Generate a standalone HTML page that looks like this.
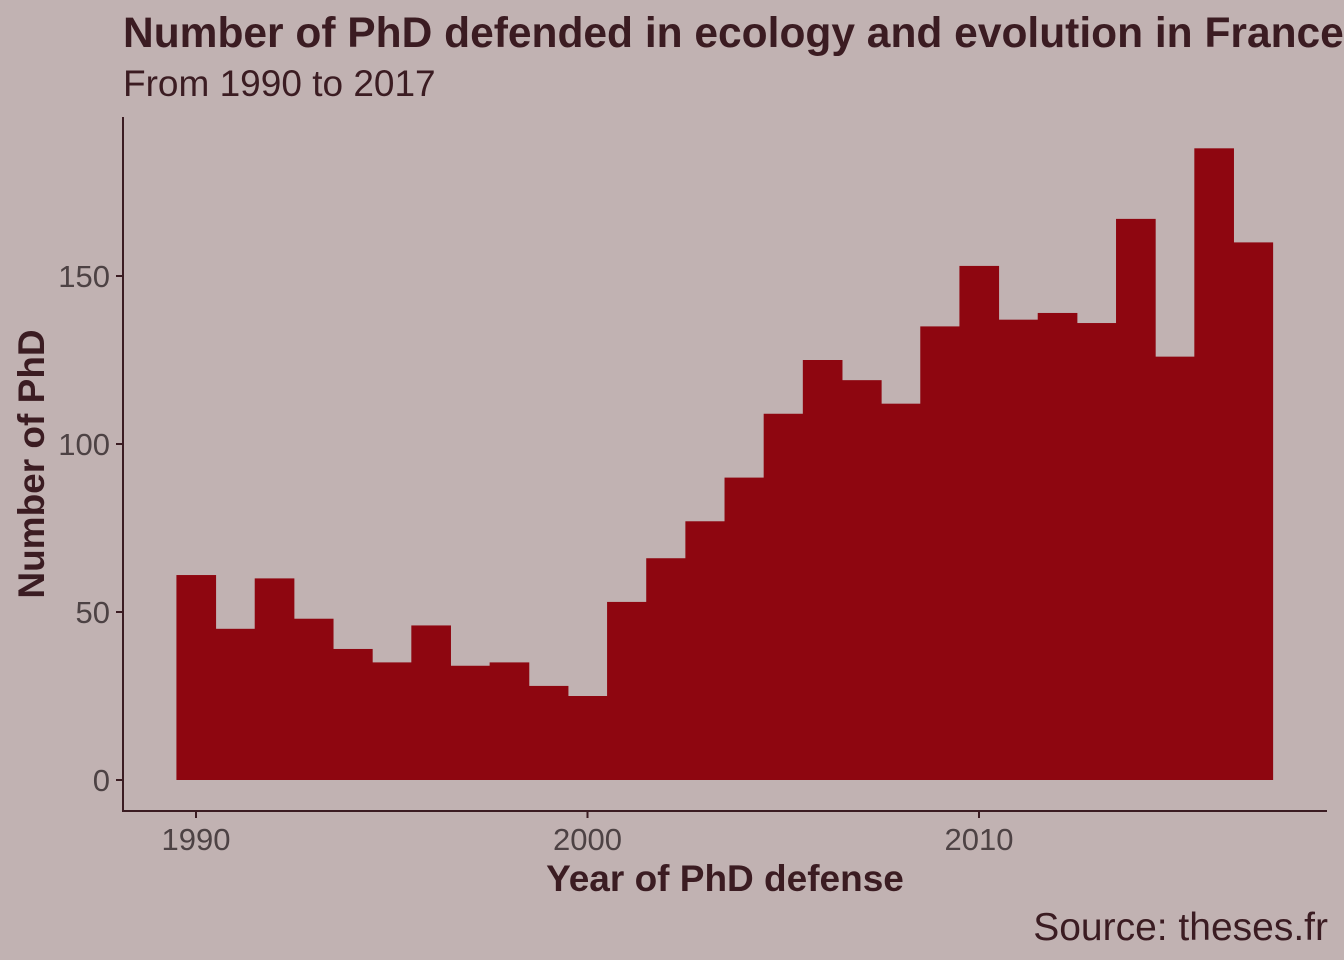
<!DOCTYPE html>
<html><head><meta charset="utf-8"><style>
body{margin:0;background:#c1b2b2;}
svg{display:block;font-family:"Liberation Sans",Arial,sans-serif;}
</style></head><body>
<svg id="chart" width="1344" height="960">
<rect width="1344" height="960" fill="#c1b2b2"/>
<text x="123" y="47" font-size="42.5" font-weight="bold" fill="#3b1c22">Number of PhD defended in ecology and evolution in France</text>
<text x="123" y="96" font-size="37" fill="#3b1c22">From 1990 to 2017</text>
<g id="bars"></g>
<line x1="123" y1="117" x2="123" y2="811" stroke="#3b1c22" stroke-width="2"/>
<line x1="122" y1="811" x2="1327" y2="811" stroke="#3b1c22" stroke-width="2"/>
<g id="yticks"></g><g id="xticks"></g>
<text x="725" y="891" font-size="37" font-weight="bold" fill="#3b1c22" text-anchor="middle">Year of PhD defense</text>
<text transform="translate(44,464) rotate(-90)" font-size="37" font-weight="bold" fill="#3b1c22" text-anchor="middle">Number of PhD</text>
<text x="1328" y="940" font-size="39" fill="#3b1c22" text-anchor="end">Source: theses.fr</text>
</svg>
<script>
const years=[1990,1991,1992,1993,1994,1995,1996,1997,1998,1999,2000,2001,2002,2003,2004,2005,2006,2007,2008,2009,2010,2011,2012,2013,2014,2015,2016,2017];
const counts=[61,45,60,48,39,35,46,34,35,28,25,53,66,77,90,109,125,119,112,135,153,137,139,136,167,126,188,160];
const yTicks=[0,50,100,150];
const xTicks=[1990,2000,2010];
const ns="http://www.w3.org/2000/svg";
const xs=y=>196+(y-1990)*39.15;
const ys=v=>780-v*3.36;
const bw=39.15;
const bars=document.getElementById('bars');
years.forEach((yr,i)=>{
 const r=document.createElementNS(ns,'rect');
 r.setAttribute('x',xs(yr)-bw/2);r.setAttribute('width',bw+0.5);
 r.setAttribute('y',ys(counts[i]));r.setAttribute('height',ys(0)-ys(counts[i]));
 r.setAttribute('fill','#8e0610');
 
 
 bars.appendChild(r);
});
const yt=document.getElementById('yticks');
yTicks.forEach(v=>{
 const l=document.createElementNS(ns,'line');
 l.setAttribute('x1',116);l.setAttribute('x2',123);l.setAttribute('y1',ys(v));l.setAttribute('y2',ys(v));
 l.setAttribute('stroke','#3b1c22');l.setAttribute('stroke-width',2);
 
 
 yt.appendChild(l);
 const t=document.createElementNS(ns,'text');
 t.setAttribute('x',110);t.setAttribute('y',ys(v)+11);t.setAttribute('text-anchor','end');
 t.setAttribute('font-size',31);t.setAttribute('fill','#4d4244');t.textContent=v;
 
 
 yt.appendChild(t);
});
const xt=document.getElementById('xticks');
xTicks.forEach(v=>{
 const l=document.createElementNS(ns,'line');
 l.setAttribute('x1',xs(v));l.setAttribute('x2',xs(v));l.setAttribute('y1',811);l.setAttribute('y2',818);
 l.setAttribute('stroke','#3b1c22');l.setAttribute('stroke-width',2);
 
 
 xt.appendChild(l);
 const t=document.createElementNS(ns,'text');
 t.setAttribute('x',xs(v));t.setAttribute('y',850);t.setAttribute('text-anchor','middle');
 t.setAttribute('font-size',31);t.setAttribute('fill','#4d4244');t.textContent=v;
 
 
 xt.appendChild(t);
});
</script>
</body></html>
